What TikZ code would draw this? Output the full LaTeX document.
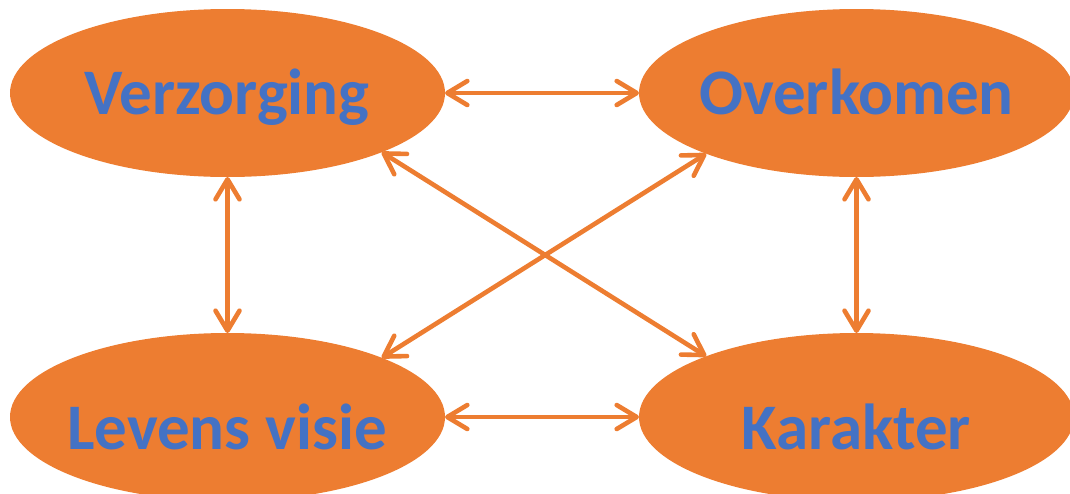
\documentclass[tikz,border=0pt]{standalone}
\usepackage{fontspec}
\setmainfont{Carlito}
\usetikzlibrary{arrows.meta,shapes.geometric}
\definecolor{orng}{HTML}{ED7D31}
\definecolor{blu}{HTML}{4472C4}
\tikzset{
  bubble/.style={ellipse, fill=orng, draw=none, minimum width=435pt, minimum height=168pt, inner sep=0pt, outer sep=0pt},
  lbl/.style={text=blu, font=\fontsize{65}{72}\selectfont\bfseries, anchor=base, inner sep=0pt},
  link/.style={draw=orng, line width=4.6pt, {Straight Barb[length=20pt,width=24pt,round]}-{Straight Barb[length=20pt,width=24pt,round]}}
}
\begin{document}
\begin{tikzpicture}[x=1pt,y=-1pt]
\useasboundingbox (0,0) rectangle (1070,493);
\clip (0,0) rectangle (1070,493);
\node[bubble] (tl) at (227.5,93) {};
\node[bubble] (tr) at (856.5,93) {};
\node[bubble] (bl) at (227.5,417) {};
\node[bubble] (br) at (856.5,417) {};
\node[lbl] (tlt) at (227,114) {Verzorging};
\node[lbl] (trt) at (856.5,114) {Overkomen};
\node[lbl] (blt) at (227,449) {Levens visie};
\node[lbl] (brt) at (856.5,449) {Karakter};
\draw[link] (tl.east) -- (tr.west);
\draw[link] (bl.east) -- (br.west);
\draw[link] (tl.south) -- (bl.north);
\draw[link] (tr.south) -- (br.north);
\draw[link] (tl.-21.4) -- (br.158.8);
\draw[link] (bl.21.4) -- (tr.-158.8);
\end{tikzpicture}
\end{document}
